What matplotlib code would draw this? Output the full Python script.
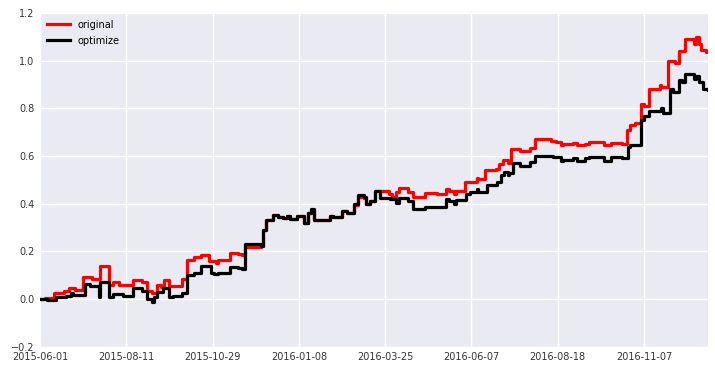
import matplotlib
matplotlib.use("Agg")
import matplotlib.pyplot as plt

# trading-day index where the value changes, and the new value
orig_day = [0, 3, 8, 14, 17, 20, 25, 30, 35, 40, 42, 46, 54, 59, 62, 65, 68, 70, 72, 75,
            82, 85, 89, 93, 98, 102, 103, 110, 115, 117,
            119, 128, 129, 131, 135, 138, 141, 143, 145, 149, 153, 155, 157, 159, 168, 170,
            175, 178, 182, 184, 188, 189, 191, 194,
            197, 200, 202, 204, 206, 208, 213, 216, 223, 230, 235, 237, 240, 241, 246,
            253, 254, 258, 264, 266, 268, 271, 273, 278, 284, 287, 296, 299, 302, 303,
            309, 311, 316, 318, 327, 331, 337, 340, 342, 345, 348, 350, 353, 359, 360,
            364, 368, 370, 374, 379, 380, 382, 383, 386, 387]
orig_val = [0.0, 0.005, 0.025, 0.035, 0.045, 0.04, 0.095, 0.085, 0.14, 0.06, 0.07, 0.058,
            0.08, 0.07, 0.035, 0.025, 0.06, 0.05, 0.08, 0.055,
            0.085, 0.165, 0.175, 0.185, 0.16, 0.15, 0.165, 0.195, 0.19, 0.185,
            0.22, 0.225, 0.29, 0.33, 0.355, 0.345, 0.34, 0.35, 0.335, 0.35, 0.32, 0.36,
            0.375, 0.33, 0.35, 0.345,
            0.37, 0.36, 0.395, 0.43, 0.425, 0.4, 0.41, 0.455,
            0.455, 0.455, 0.44, 0.43, 0.45, 0.465, 0.45, 0.43, 0.445, 0.44, 0.46, 0.455,
            0.44, 0.455, 0.49,
            0.51, 0.505, 0.54, 0.545, 0.565, 0.585, 0.57, 0.63, 0.62, 0.635, 0.67, 0.665,
            0.66, 0.645, 0.65,
            0.655, 0.645, 0.65, 0.66, 0.645, 0.655, 0.65, 0.71, 0.73, 0.74, 0.82, 0.81,
            0.88, 0.9, 0.89,
            1.0, 0.99, 1.04, 1.09, 1.07, 1.1, 1.07, 1.045, 1.035, 1.035]

opt_day = [0, 4, 9, 15, 18, 19, 26, 29, 34, 35, 40, 42, 48, 54, 59, 62, 65, 66, 68, 71,
           75, 77, 82, 85, 89, 93, 99, 101, 103, 110, 115, 117,
           119, 128, 129, 131, 135, 138, 141, 143, 145, 149, 153, 155, 157, 159, 168, 170,
           175, 178, 182, 184, 188, 189, 191, 194,
           197, 203, 206, 208, 213, 216, 223, 230, 235, 237, 240, 241, 247, 249,
           253, 254, 259, 265, 267, 269, 271, 272, 274, 278, 284, 287, 297, 302, 303,
           309, 311, 316, 318, 327, 331, 337, 341, 342, 348, 350, 353, 360, 361,
           365, 367, 370, 372, 374, 379, 380, 382, 384, 387]
opt_val = [0.0, -0.005, 0.008, 0.015, 0.025, 0.018, 0.062, 0.055, 0.01, 0.07, 0.01, 0.02,
           0.015, 0.045, 0.035, 0.0, -0.01, 0.01, 0.03, 0.045,
           0.01, 0.015, 0.025, 0.1, 0.11, 0.14, 0.11, 0.105, 0.11, 0.135, 0.13, 0.125,
           0.23, 0.225, 0.29, 0.33, 0.355, 0.345, 0.34, 0.35, 0.335, 0.35, 0.32, 0.36,
           0.38, 0.33, 0.35, 0.345,
           0.37, 0.36, 0.40, 0.435, 0.43, 0.40, 0.41, 0.455,
           0.425, 0.42, 0.405, 0.425, 0.41, 0.378, 0.385, 0.385, 0.42, 0.41, 0.40, 0.415,
           0.44, 0.45,
           0.46, 0.45, 0.48, 0.49, 0.52, 0.535, 0.52, 0.53, 0.57, 0.56, 0.575, 0.6, 0.595,
           0.58, 0.585,
           0.59, 0.58, 0.59, 0.595, 0.58, 0.595, 0.59, 0.64, 0.645, 0.75, 0.77, 0.79, 0.8,
           0.78,
           0.88, 0.87, 0.92, 0.91, 0.945, 0.925, 0.935, 0.91, 0.88, 0.875]

tick_pos = [0, 50, 100, 150, 200, 250, 300, 350]
tick_labels = ['2015-06-01', '2015-08-11', '2015-10-29', '2016-01-08',
               '2016-03-25', '2016-06-07', '2016-08-18', '2016-11-07']

plt.rcParams['font.family'] = ['DejaVu Sans']
fig = plt.figure(figsize=(7.15, 3.71), dpi=100)
ax = fig.add_axes([0.056, 0.065, 0.934, 0.9])
ax.set_facecolor('#EAEAF2')
for s in ax.spines.values():
    s.set_visible(False)
ax.grid(True, color='white', linewidth=1)
ax.set_axisbelow(True)

ax.plot(orig_day, orig_val, drawstyle='steps-post', color='red', lw=2.3,
        solid_joinstyle='round', label='original')
ax.plot(opt_day, opt_val, drawstyle='steps-post', color='black', lw=2.3,
        solid_joinstyle='round', label='optimize')

ax.set_xlim(0, 387)
ax.set_ylim(-0.2, 1.2)
ax.set_xticks(tick_pos)
ax.set_xticklabels(tick_labels)
ax.set_yticks([-0.2, 0.0, 0.2, 0.4, 0.6, 0.8, 1.0, 1.2])
ax.tick_params(length=0, labelsize=7, colors='#333333', pad=4)

ax.legend(loc='upper left', frameon=False, fontsize=7, handlelength=2.4,
          borderaxespad=0.3, labelspacing=0.6)

fig.savefig('out.png', dpi=100)
